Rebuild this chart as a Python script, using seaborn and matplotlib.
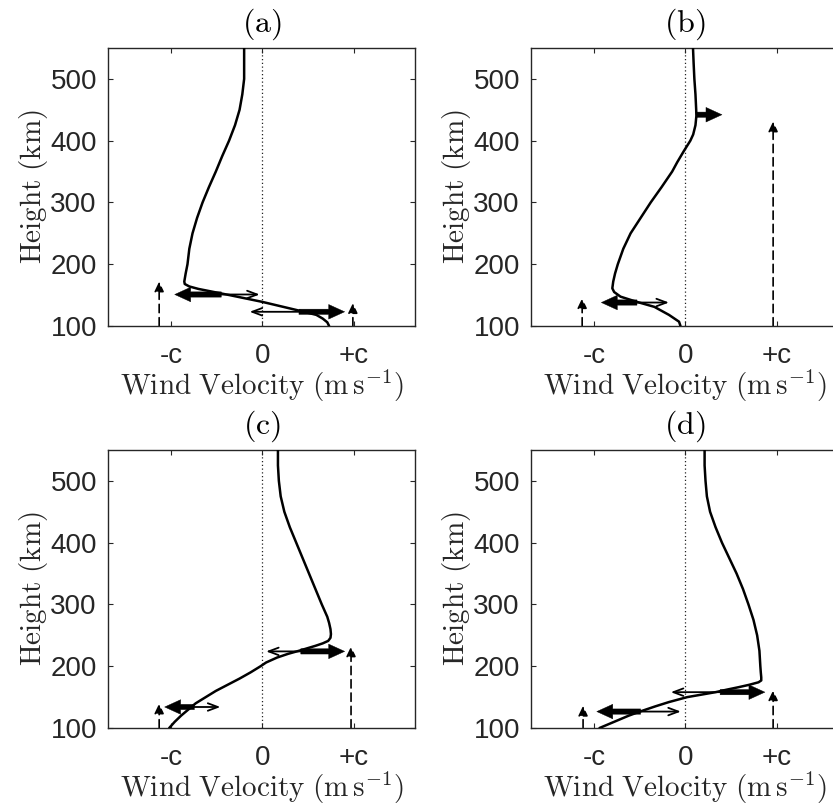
import numpy as np
import pandas as pd
import matplotlib
matplotlib.use("Agg")
import matplotlib.pyplot as plt
from matplotlib.patches import ArrowStyle
import seaborn as sns

# ---------------- data (wind in units of c, height in km) ----------------
a_height = [550, 525, 500, 475, 450, 425, 400, 375, 350, 325, 300, 275, 250, 225, 200,
            185, 172, 168, 164, 160, 150, 139, 126, 118, 112, 106, 100]
a_wind = [-0.20, -0.20, -0.20, -0.22, -0.25, -0.30, -0.365, -0.44, -0.51, -0.585, -0.655,
          -0.715, -0.765, -0.80, -0.82, -0.84, -0.855, -0.85, -0.80, -0.70, -0.36, 0.0,
          0.37, 0.59, 0.66, 0.71, 0.73]

b_height = [550, 525, 500, 475, 450, 440, 425, 410, 400, 383, 365, 350, 325, 300, 275,
            250, 225, 200, 185, 172, 161, 155, 147.5, 139, 131, 118, 107, 100]
b_wind = [0.083, 0.09, 0.098, 0.11, 0.118, 0.12, 0.11, 0.085, 0.054, -0.018, -0.09,
          -0.145, -0.26, -0.38, -0.49, -0.60, -0.68, -0.74, -0.77, -0.79, -0.80, -0.78,
          -0.71, -0.53, -0.34, -0.18, -0.07, -0.054]

c_height = [550, 525, 500, 475, 450, 425, 400, 375, 350, 325, 300, 290, 280, 270, 260,
            252, 246, 241, 237, 233, 229, 225, 220, 214, 206, 200, 190, 180, 170, 160,
            150, 140, 130, 120, 110, 100]
c_wind = [0.17, 0.17, 0.18, 0.20, 0.24, 0.30, 0.37, 0.44, 0.51, 0.58, 0.65, 0.68, 0.71,
          0.73, 0.745, 0.75, 0.745, 0.72, 0.66, 0.58, 0.49, 0.40, 0.28, 0.16, 0.04, -0.02,
          -0.13, -0.25, -0.38, -0.51, -0.62, -0.73, -0.81, -0.89, -0.96, -1.02]

d_height = [550, 525, 500, 475, 450, 425, 400, 375, 350, 325, 300, 275, 250, 225, 200,
            190, 182, 177, 174, 170, 166, 162, 158, 150, 142, 135, 127, 120, 110, 100]
d_wind = [0.21, 0.21, 0.22, 0.235, 0.27, 0.33, 0.40, 0.48, 0.56, 0.63, 0.69, 0.745, 0.785,
          0.81, 0.82, 0.825, 0.83, 0.83, 0.80, 0.70, 0.58, 0.45, 0.33, 0.02, -0.18,
          -0.33, -0.49, -0.62, -0.78, -0.94]

# horizontal arrows: height, common origin, thick tip, thin tip (nan = none)
a_arrow_h = [151, 123]
a_arrow_origin = [-0.45, 0.40]
a_thick_tip = [-0.96, 0.90]
a_thin_tip = [-0.03, -0.14]

b_arrow_h = [138, 442]
b_arrow_origin = [-0.53, 0.127]
b_thick_tip = [-0.92, 0.40]
b_thin_tip = [-0.18, np.nan]

c_arrow_h = [224, 134]
c_arrow_origin = [0.42, -0.745]
c_thick_tip = [0.90, -1.07]
c_thin_tip = [0.04, -0.46]

d_arrow_h = [158, 126.6]
d_arrow_origin = [0.38, -0.49]
d_thick_tip = [0.87, -0.97]
d_thin_tip = [-0.16, -0.05]

# dashed vertical arrows (phase speeds): x position and top height
a_dash_x = [-1.13, 0.99]
a_dash_top = [172, 137]
b_dash_x = [-1.13, 0.96]
b_dash_top = [145, 431]
c_dash_x = [-1.13, 0.97]
c_dash_top = [139.6, 232]
d_dash_x = [-1.12, 0.96]
d_dash_top = [136, 161]

panel_titles = ["(a)", "(b)", "(c)", "(d)"]
x_ticks = [-1, 0, 1]
x_ticklabels = ["-c", "0", "+c"]
y_ticks = [100, 200, 300, 400, 500]

# ---------------- style ----------------
sns.set_theme(style="white")
plt.rcParams["font.family"] = ["Liberation Sans", "DejaVu Sans"]
plt.rcParams["mathtext.fontset"] = "cm"
GRAY = "#262626"

W, H = 833, 807
fig = plt.figure(figsize=(W / 100, H / 100), dpi=100)

ax_w, ax_h = 307 / W, 278 / H
lefts = [108 / W, 531 / W]
bottoms = [(H - 326) / H, (H - 728) / H]
positions = [(lefts[0], bottoms[0]), (lefts[1], bottoms[0]),
             (lefts[0], bottoms[1]), (lefts[1], bottoms[1])]

curves = [(a_wind, a_height), (b_wind, b_height), (c_wind, c_height), (d_wind, d_height)]
arrows = [(a_arrow_h, a_arrow_origin, a_thick_tip, a_thin_tip),
          (b_arrow_h, b_arrow_origin, b_thick_tip, b_thin_tip),
          (c_arrow_h, c_arrow_origin, c_thick_tip, c_thin_tip),
          (d_arrow_h, d_arrow_origin, d_thick_tip, d_thin_tip)]
dashes = [(a_dash_x, a_dash_top), (b_dash_x, b_dash_top),
          (c_dash_x, c_dash_top), (d_dash_x, d_dash_top)]

thick_style = ArrowStyle.Simple(head_length=1.15, head_width=1.05, tail_width=0.38)
thin_style = ArrowStyle("->", head_length=0.4, head_width=0.15)
dash_style = ArrowStyle("-|>", head_length=0.42, head_width=0.2)

for i, (left, bottom) in enumerate(positions):
    ax = fig.add_axes([left, bottom, ax_w, ax_h])
    wind, height = curves[i]
    df = pd.DataFrame({"wind": wind, "height": height})

    ax.axvline(0, color="#222222", ls=(0, (1, 2)), lw=0.9, zorder=1)

    hs, orig, thick, thin = arrows[i]
    for h, o, tk, tn in zip(hs, orig, thick, thin):
        if not np.isnan(tn):
            ax.annotate("", xy=(tn, h), xytext=(o, h),
                        arrowprops=dict(arrowstyle=thin_style, color="black", lw=1.3,
                                        mutation_scale=18, shrinkA=0, shrinkB=0),
                        zorder=2)
        ax.annotate("", xy=(tk, h), xytext=(o, h),
                    arrowprops=dict(arrowstyle=thick_style, color="black", lw=0.3,
                                    mutation_scale=10, shrinkA=0, shrinkB=0),
                    zorder=3)

    dx, dtop = dashes[i]
    for x, t in zip(dx, dtop):
        ax.annotate("", xy=(x, t), xytext=(x, 100),
                    arrowprops=dict(arrowstyle=dash_style, color="black", lw=1.2,
                                    ls=(0, (5, 3)), mutation_scale=14,
                                    shrinkA=0, shrinkB=0),
                    zorder=2)

    sns.lineplot(data=df, x="wind", y="height", sort=False, estimator=None,
                 orient="y", color="black", lw=1.8, ax=ax, zorder=4)

    ax.set_xlim(-1.69, 1.67)
    ax.set_ylim(100, 550)
    ax.set_xticks(x_ticks)
    ax.set_xticklabels(x_ticklabels)
    ax.set_yticks(y_ticks)
    ax.tick_params(axis="both", which="both", direction="in", length=3.5, width=0.8,
                   top=True, right=True, bottom=True, left=True,
                   labelsize=20, labelcolor=GRAY, color=GRAY)
    ax.tick_params(axis="y", pad=8)
    ax.tick_params(axis="x", pad=12)
    for s in ax.spines.values():
        s.set_color(GRAY)
        s.set_linewidth(1.0)
        s.set_visible(True)

    ax.set_title(r"$\mathrm{" + panel_titles[i] + "}$", fontsize=23, color="black", pad=12)
    ax.set_ylabel(r"$\mathrm{Height\ (km)}$", fontsize=21, color=GRAY)
    ax.set_xlabel(r"$\mathrm{Wind\ Velocity\ (m\,s^{-1})}$", fontsize=21, color=GRAY)
    ax.yaxis.set_label_coords(-0.19, 0.5)
    ax.xaxis.set_label_coords(0.5, -0.15)
    ax.xaxis.label.set_va("top")

fig.savefig("out.png", dpi=100)
